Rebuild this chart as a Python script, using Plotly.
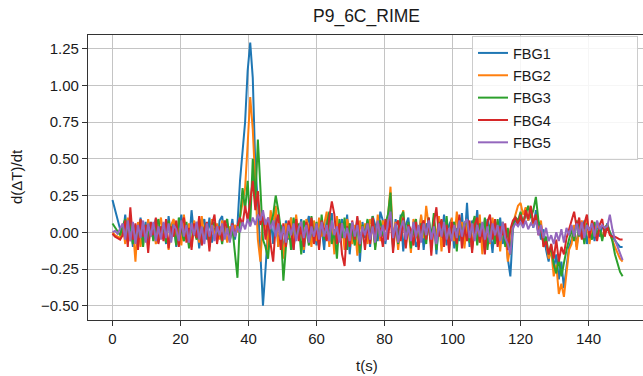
import plotly.graph_objects as go

T_STEP = 0.75  # sample spacing in seconds
N_SAMPLES = 201

FBG1 = [
    0.22, 0.15, 0.08, 0.02, -0.03, 0.12, -0.05, 0.08, -0.10, 0.05, -0.06, 0.10, -0.04, 0.07, -0.09, 0.04, -0.02, 0.09, -0.07, 0.03,
    0.06, -0.08, 0.11, -0.03, 0.08, -0.10, 0.02, 0.12, -0.06, 0.05, -0.09, 0.15, -0.02, 0.07, -0.11, 0.04, 0.09, -0.05, 0.10, -0.07,
    0.03, -0.06, 0.08, 0.11, -0.04, 0.06, -0.02, 0.09, -0.05, 0.05, 0.35, 0.55, 0.75, 1.10, 1.29, 1.05, 0.45, 0.20, -0.20, -0.50,
    -0.25, 0.02, 0.10, -0.08, 0.12, -0.10, 0.05, -0.15, 0.08, -0.05, 0.10, -0.12, 0.06, -0.03, 0.09, -0.14, 0.04, 0.11, -0.07, 0.05,
    -0.09, 0.08, 0.03, -0.12, 0.10, -0.05, 0.13, -0.10, 0.06, -0.02, 0.09, -0.08, 0.12, -0.15, 0.04, -0.06, 0.10, -0.20, 0.07, -0.04,
    0.08, -0.10, 0.11, 0.05, -0.06, 0.14, 0.08, -0.08, 0.06, 0.22, -0.11, 0.09, -0.04, 0.12, -0.13, 0.05, 0.10, -0.07, 0.03, -0.10,
    -0.05, 0.11, -0.12, 0.06, 0.02, -0.08, 0.10, -0.15, 0.07, -0.04, 0.12, -0.09, 0.05, 0.09, -0.11, 0.03, -0.06, 0.13, -0.08, 0.20,
    -0.10, 0.08, -0.03, 0.15, -0.07, 0.04, -0.12, 0.09, 0.02, -0.14, 0.07, -0.05, 0.10, -0.08, 0.03, -0.18, -0.30, 0.02, 0.09, 0.05,
    0.10, 0.05, 0.14, 0.08, 0.12, 0.03, 0.15, 0.06, -0.05, 0.02, -0.12, -0.20, -0.08, -0.25, -0.15, -0.32, -0.20, -0.38, -0.25, -0.10,
    -0.05, 0.03, -0.10, 0.06, -0.04, 0.08, -0.08, 0.02, 0.05, -0.06, 0.07, -0.03, 0.04, 0.01, 0.06, 0.00, -0.03, -0.06, -0.08, -0.10,
    -0.10,
]

FBG2 = [
    0.00, -0.02, -0.03, -0.04, 0.05, -0.08, 0.10, -0.06, 0.03, -0.20, 0.07, -0.10, 0.04, -0.05, 0.09, -0.03, 0.06, -0.08, 0.02, 0.10,
    -0.04, 0.07, -0.12, 0.05, 0.09, -0.06, 0.03, -0.09, 0.12, -0.02, 0.06, -0.10, 0.08, 0.02, -0.07, 0.11, -0.04, 0.05, -0.08, 0.09,
    -0.03, 0.06, -0.05, 0.08, 0.02, -0.07, 0.04, -0.02, 0.05, 0.00, 0.10, 0.20, 0.30, 0.60, 0.92, 0.70, 0.30, -0.05, -0.20, 0.10,
    0.08, -0.12, 0.15, 0.05, 0.18, -0.10, 0.02, -0.18, 0.06, -0.04, 0.10, -0.08, 0.12, -0.02, 0.07, -0.12, 0.09, 0.03, -0.10, 0.08,
    -0.06, 0.10, -0.03, 0.05, 0.14, -0.10, 0.07, -0.15, 0.11, -0.04, 0.06, -0.12, 0.09, 0.02, -0.08, 0.05, -0.16, 0.08, -0.02, 0.06,
    -0.08, 0.09, 0.04, -0.10, 0.12, -0.06, 0.08, 0.02, 0.10, 0.31, -0.05, 0.07, -0.12, 0.05, 0.15, -0.08, 0.04, -0.14, 0.09, 0.02,
    -0.07, 0.12, -0.04, 0.18, 0.05, -0.10, 0.08, -0.03, 0.11, -0.13, 0.06, 0.02, -0.09, 0.10, -0.06, 0.14, -0.02, 0.07, -0.11, 0.08,
    0.03, -0.12, 0.09, -0.05, 0.12, -0.15, 0.06, 0.01, -0.08, 0.10, -0.04, 0.07, -0.13, 0.05, 0.02, -0.20, -0.10, 0.06, 0.12, 0.18,
    0.20, 0.12, 0.17, 0.08, 0.14, 0.05, 0.10, 0.00, 0.08, -0.10, -0.05, -0.18, -0.12, -0.30, -0.22, -0.42, -0.35, -0.44, -0.28, -0.12,
    -0.08, 0.05, -0.12, 0.02, 0.08, -0.05, 0.10, -0.08, 0.04, -0.02, 0.06, 0.01, -0.04, 0.03, 0.05, -0.01, -0.06, -0.10, -0.14, -0.18,
    -0.20,
]

FBG3 = [
    0.06, 0.03, 0.01, -0.02, 0.04, 0.09, -0.05, 0.06, -0.08, 0.02, -0.04, 0.08, -0.10, 0.05, -0.03, 0.07, -0.06, 0.03, 0.09, -0.04,
    0.05, -0.07, 0.08, -0.02, 0.04, -0.09, 0.10, 0.02, -0.06, 0.07, -0.11, 0.05, 0.01, -0.05, 0.09, -0.08, 0.03, 0.06, -0.10, 0.04,
    0.07, -0.04, 0.02, -0.08, 0.05, 0.09, -0.06, 0.03, -0.12, -0.31, 0.10, 0.30, 0.15, 0.35, 0.05, 0.50, 0.20, 0.63, 0.30, -0.05,
    -0.10, -0.18, 0.05, 0.12, 0.25, 0.15, 0.02, -0.33, -0.10, 0.05, -0.12, 0.10, -0.03, 0.06, -0.15, 0.08, 0.02, -0.09, 0.11, -0.04,
    0.07, -0.10, 0.12, -0.05, 0.04, 0.14, -0.08, 0.02, -0.18, 0.09, -0.04, 0.10, -0.12, 0.06, 0.01, -0.09, 0.08, -0.14, 0.05, -0.02,
    0.09, -0.06, 0.11, -0.12, 0.04, 0.08, -0.03, 0.06, 0.12, 0.27, -0.10, 0.05, -0.08, 0.10, 0.14, -0.05, 0.07, -0.11, 0.03, 0.09,
    -0.10, 0.06, 0.02, -0.08, 0.10, -0.04, 0.13, -0.12, 0.05, 0.08, -0.06, 0.11, -0.09, 0.03, 0.07, -0.13, 0.10, -0.02, 0.06, 0.09,
    -0.07, 0.04, 0.11, -0.09, 0.06, -0.03, 0.10, -0.12, 0.05, 0.02, -0.08, 0.09, -0.05, 0.07, -0.10, 0.03, -0.15, 0.05, 0.10, 0.08,
    0.14, 0.06, 0.12, 0.18, 0.10, 0.15, 0.24, 0.08, 0.02, -0.08, -0.03, -0.15, -0.10, -0.22, -0.28, -0.18, -0.30, -0.20, -0.12, -0.05,
    0.02, -0.06, 0.08, -0.03, 0.05, -0.08, 0.06, 0.01, -0.05, 0.07, -0.02, 0.04, -0.06, 0.03, 0.05, 0.00, -0.06, -0.15, -0.22, -0.27,
    -0.30,
]

FBG4 = [
    -0.01, -0.03, -0.04, -0.05, -0.02, 0.08, -0.10, 0.17, -0.05, 0.06, -0.12, 0.09, -0.03, 0.05, -0.14, 0.07, -0.02, 0.10, -0.08, 0.04,
    -0.06, 0.09, -0.11, 0.04, -0.03, 0.08, -0.10, 0.05, 0.10, -0.07, 0.03, -0.12, 0.06, -0.04, 0.11, -0.09, 0.02, 0.07, -0.13, 0.05,
    0.12, -0.08, 0.04, -0.06, 0.08, 0.02, -0.05, 0.06, -0.02, 0.04, 0.10, 0.05, 0.18, 0.08, 0.22, 0.35, 0.15, 0.28, 0.05, 0.12,
    -0.05, 0.10, -0.08, -0.20, 0.05, 0.12, -0.12, 0.06, -0.10, 0.08, 0.02, -0.12, 0.09, -0.06, 0.04, -0.10, 0.07, -0.03, 0.10, -0.08,
    0.05, -0.12, 0.08, 0.02, -0.06, 0.10, 0.21, 0.12, -0.08, 0.06, -0.15, -0.23, 0.04, -0.10, 0.08, -0.05, 0.11, -0.09, 0.03, -0.12,
    0.06, -0.08, 0.10, -0.04, 0.07, 0.02, -0.10, 0.09, -0.05, 0.12, -0.14, 0.04, 0.08, -0.06, 0.10, -0.11, 0.05, 0.02, -0.09, 0.07,
    -0.12, 0.04, 0.08, -0.05, 0.10, -0.16, 0.06, 0.17, -0.03, 0.09, -0.10, 0.05, -0.14, 0.07, 0.02, -0.08, 0.12, -0.11, 0.04, -0.06,
    0.08, -0.14, 0.05, 0.10, -0.07, 0.03, -0.15, 0.07, 0.12, -0.05, 0.09, -0.10, 0.04, -0.02, 0.06, -0.12, 0.02, 0.08, 0.10, 0.05,
    0.12, 0.04, 0.15, 0.09, 0.18, 0.06, 0.12, -0.02, 0.05, -0.10, -0.06, -0.15, -0.08, -0.18, -0.05, -0.20, -0.10, -0.15, -0.04, 0.02,
    0.08, 0.14, 0.03, 0.10, -0.05, 0.06, 0.12, -0.04, 0.08, 0.02, -0.06, 0.05, 0.09, -0.03, 0.04, -0.02, -0.03, -0.03, -0.04, -0.05,
    -0.05,
]

FBG5 = [
    0.00, 0.01, -0.01, 0.02, 0.06, -0.05, 0.08, -0.06, 0.07, -0.08, 0.05, -0.04, 0.08, -0.07, 0.06, -0.03, 0.07, -0.06, 0.04, -0.05,
    0.07, -0.04, 0.06, -0.07, 0.05, 0.02, -0.06, 0.08, -0.03, 0.05, -0.07, 0.06, -0.02, 0.07, -0.05, 0.04, -0.08, 0.06, -0.03, 0.05,
    -0.06, 0.04, -0.02, 0.06, -0.05, 0.03, -0.07, 0.05, -0.03, 0.04, 0.00, 0.07, 0.02, 0.09, 0.04, 0.10, 0.05, 0.12, 0.08, 0.15,
    0.05, 0.10, 0.02, 0.08, -0.03, 0.06, -0.05, 0.04, -0.07, 0.05, -0.02, 0.06, -0.06, 0.03, 0.07, -0.04, 0.05, -0.07, 0.04, -0.03,
    0.06, -0.05, 0.07, -0.03, 0.05, -0.06, 0.08, -0.02, 0.04, -0.07, 0.06, -0.04, 0.03, -0.06, 0.07, -0.03, 0.05, -0.08, 0.04, -0.02,
    0.06, -0.05, 0.04, -0.07, 0.08, -0.03, 0.05, -0.06, 0.07, 0.14, -0.04, 0.06, -0.07, 0.03, 0.08, -0.05, 0.04, -0.06, 0.07, -0.03,
    0.05, -0.07, 0.06, -0.02, 0.08, -0.05, 0.04, -0.08, 0.06, -0.03, 0.07, -0.05, 0.03, -0.06, 0.05, -0.04, 0.08, -0.03, 0.06, 0.09,
    -0.04, 0.06, -0.06, 0.05, -0.03, 0.07, -0.05, 0.04, -0.07, 0.06, -0.02, 0.05, -0.06, 0.07, -0.04, -0.08, -0.15, 0.03, 0.06, 0.04,
    0.07, 0.03, 0.08, 0.02, 0.06, 0.04, 0.08, -0.02, 0.05, -0.04, 0.03, -0.06, -0.02, -0.08, 0.00, -0.06, 0.02, -0.07, 0.03, -0.02,
    0.05, -0.03, 0.06, -0.02, 0.07, -0.04, 0.05, 0.01, 0.06, -0.03, 0.08, 0.02, 0.05, 0.03, 0.04, 0.12, 0.02, -0.05, -0.10, -0.15,
    -0.19,
]

SERIES_NAMES = ["FBG1", "FBG2", "FBG3", "FBG4", "FBG5"]
SERIES = [FBG1, FBG2, FBG3, FBG4, FBG5]
COLORS = ["#1f77b4", "#ff7f0e", "#2ca02c", "#d62728", "#9467bd"]

t = [round(i * T_STEP, 4) for i in range(N_SAMPLES)]

FONT = "Liberation Sans, Arial, Helvetica, sans-serif"
LEGEND_PAD = "\u00a0" * 20  # widen legend box like the reference

fig = go.Figure()
for name, ys, col in zip(SERIES_NAMES, SERIES, COLORS):
    fig.add_trace(go.Scatter(x=t[:len(ys)], y=ys, mode="lines", name=name + LEGEND_PAD,
                             legendgroup=name,
                             line=dict(color=col, width=2)))

W, H = 643, 376
L, R, T, B = 88, 0, 35, 56
pw, ph = W - L - R, H - T - B

def px_x(x):
    return (x - L) / pw

def px_y(y):
    return (H - B - y) / ph

fig.update_layout(
    width=W, height=H,
    margin=dict(l=L, r=R, t=T, b=B, pad=0),
    paper_bgcolor="white", plot_bgcolor="white",
    font=dict(family=FONT, size=15, color="#1a1a1a"),
    showlegend=True,
    legend=dict(x=px_x(638), y=px_y(36), xanchor="right", yanchor="top",
                bordercolor="#cccccc", borderwidth=1,
                bgcolor="rgba(255,255,255,0.85)",
                font=dict(family=FONT, size=14.5, color="#1a1a1a"),
                tracegroupgap=0.5),
    annotations=[
        dict(text="P9_6C_RIME", xref="paper", yref="paper",
             x=px_x(366), y=px_y(16), xanchor="center", yanchor="middle",
             showarrow=False, font=dict(family=FONT, size=17.5, color="#1a1a1a")),
        dict(text="t(s)", xref="paper", yref="paper",
             x=px_x(367), y=px_y(365), xanchor="center", yanchor="middle",
             showarrow=False, font=dict(family=FONT, size=15, color="#1a1a1a")),
        dict(text="d(ΔT)/dt", xref="paper", yref="paper",
             x=px_x(16), y=px_y(177), xanchor="center", yanchor="middle",
             textangle=-90, showarrow=False,
             font=dict(family=FONT, size=15, color="#1a1a1a")),
    ],
)

fig.update_xaxes(
    range=[-7.2, 156.0], tick0=0, dtick=20,
    showgrid=True, gridcolor="#c4c4c4", gridwidth=1.1,
    zeroline=False,
    showline=True, linecolor="#333333", linewidth=1.1, mirror=True,
    ticks="outside", ticklen=5, tickwidth=1.1, tickcolor="#333333",
)
fig.update_yaxes(
    range=[-0.597, 1.342], tick0=0, dtick=0.25, tickformat=".2f",
    showgrid=True, gridcolor="#c4c4c4", gridwidth=1.1,
    zeroline=False,
    showline=True, linecolor="#333333", linewidth=1.1, mirror=False,
    ticks="outside", ticklen=5, tickwidth=1.1, tickcolor="#333333",
)

fig.write_html("out.html")
